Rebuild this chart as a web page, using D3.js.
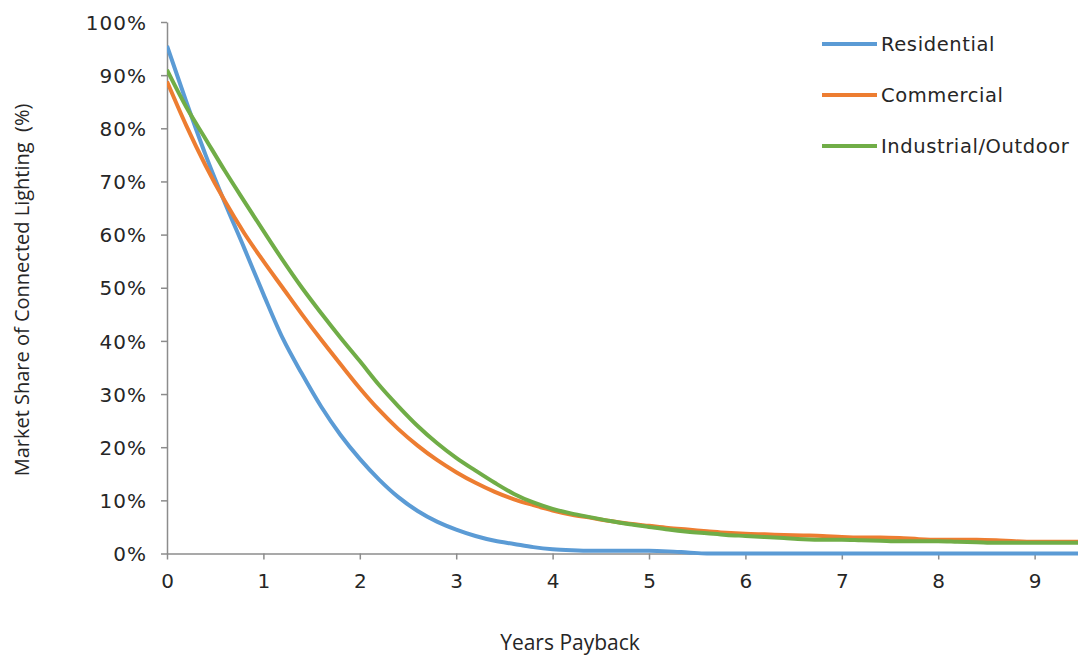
<!DOCTYPE html>
<html>
<head>
<meta charset="utf-8">
<script src="https://cdn.jsdelivr.net/npm/d3@7"></script>
<style>
  html, body { margin: 0; padding: 0; background: #ffffff; }
  svg { display: block; }
</style>
</head>
<body>
<svg id="chart" width="1078" height="655"></svg>
<script>
// ---- Data ----
const years = [0,0.2,0.4,0.6,0.8,1.0,1.2,1.4,1.6,1.8,2.0,2.2,2.4,2.6,2.8,3.0,3.2,3.4,3.6,3.8,4.0,4.2,4.4,4.6,4.8,5.0,5.2,5.4,5.6,5.8,6.0,6.2,6.4,6.6,6.8,7.0,7.2,7.4,7.6,7.8,8.0,8.2,8.4,8.6,8.8,9.0,9.2,9.4,9.6];
const residential = [95.5,85,75,66,57.5,48.8,40.5,33.8,27.6,22.3,17.8,13.9,10.6,8,6,4.5,3.3,2.4,1.8,1.2,0.8,0.6,0.5,0.5,0.5,0.5,0.4,0.2,0,0,0,0,0,0,0,0,0,0,0,0,0,0,0,0,0,0,0,0,0];
const commercial = [88.8,80.5,73,66.3,60.3,55,50,45,40.2,35.6,31.1,27,23.4,20.3,17.6,15.3,13.3,11.6,10.2,9.1,8.1,7.3,6.7,6.1,5.6,5.2,4.8,4.5,4.2,3.9,3.7,3.6,3.5,3.4,3.3,3.1,3.0,3.0,2.9,2.7,2.6,2.6,2.6,2.5,2.3,2.2,2.2,2.2,2.2];
const industrial = [91,84,78,72,66.3,60.7,55.2,50,45.2,40.6,36.2,31.7,27.7,24,20.8,18,15.6,13.3,11.2,9.6,8.4,7.5,6.8,6.1,5.5,5.0,4.5,4.1,3.8,3.5,3.3,3.1,2.9,2.7,2.6,2.6,2.5,2.4,2.3,2.3,2.3,2.2,2.1,2.0,2.0,2.0,2.0,2.0,2.0];
const seriesNames = ["Residential", "Commercial", "Industrial/Outdoor"];
const seriesValues = [residential, commercial, industrial];
const seriesColors = ["#5B9BD5", "#ED7D31", "#70AD47"];
const xTicks = [0,1,2,3,4,5,6,7,8,9];
const yTicks = [0,10,20,30,40,50,60,70,80,90,100];
const xTitle = "Years Payback";
const yTitle = "Market Share of Connected Lighting  (%)";

// ---- Layout ----
const W = 1078, H = 655;
const x0 = 167, x1 = 1078, y0 = 553.5, y1 = 22;
const svg = d3.select("#chart");

const x = d3.scaleLinear().domain([0, 9.45]).range([x0, x1]);
const y = d3.scaleLinear().domain([0, 100]).range([y0, y1]);

const axisColor = "#8c8c8c";
const tickFont = "'DejaVu Sans', Verdana, sans-serif";
const titleFont = "'Open Sans', 'Noto Sans', sans-serif";

// Y axis
const yAxis = svg.append("g")
  .attr("transform", `translate(${x0},0)`)
  .call(d3.axisLeft(y).tickValues(yTicks).tickSize(6).tickSizeOuter(0).tickPadding(14)
        .tickFormat(d => d + "%"));
yAxis.select(".domain").attr("stroke", axisColor).attr("stroke-width", 1.5);
yAxis.selectAll(".tick line").attr("stroke", axisColor).attr("stroke-width", 1.5);
yAxis.selectAll(".tick text")
  .attr("fill", "#262626").style("font-family", tickFont).style("font-size", "20px")
  .style("letter-spacing", "1px").attr("dy", "0.36em");

// X axis
const xAxis = svg.append("g")
  .attr("transform", `translate(0,${y0})`)
  .call(d3.axisBottom(x).tickValues(xTicks).tickSize(6).tickSizeOuter(0).tickPadding(14)
        .tickFormat(d3.format("d")));
xAxis.select(".domain").attr("stroke", axisColor).attr("stroke-width", 1.5);
xAxis.selectAll(".tick line").attr("stroke", axisColor).attr("stroke-width", 1.5);
xAxis.selectAll(".tick text")
  .attr("fill", "#262626").style("font-family", tickFont).style("font-size", "20px");

// Lines (clipped to plot area)
svg.append("clipPath").attr("id", "plotclip")
  .append("rect").attr("x", x0).attr("y", 0).attr("width", x1 - x0).attr("height", y0 + 5);

const line = d3.line()
  .x((d, i) => x(years[i]))
  .y(d => y(d))
  .curve(d3.curveMonotoneX);

const lines = svg.append("g").attr("clip-path", "url(#plotclip)");
seriesValues.forEach((vals, k) => {
  lines.append("path")
    .datum(vals)
    .attr("fill", "none")
    .attr("stroke", seriesColors[k])
    .attr("stroke-width", 4)
    .attr("stroke-linejoin", "round")
    .attr("d", line);
});

// Legend
const legend = svg.append("g");
const legendY = [44, 95, 146];
seriesNames.forEach((name, k) => {
  legend.append("line")
    .attr("x1", 822).attr("x2", 877)
    .attr("y1", legendY[k]).attr("y2", legendY[k])
    .attr("stroke", seriesColors[k]).attr("stroke-width", 4);
  legend.append("text")
    .attr("x", 881).attr("y", legendY[k]).attr("dy", "0.36em")
    .attr("fill", "#262626")
    .style("font-family", tickFont).style("font-size", "19.5px")
    .style("letter-spacing", "0.6px")
    .text(name);
});

// Axis titles
svg.append("text")
  .attr("x", 570).attr("y", 650)
  .attr("text-anchor", "middle")
  .attr("fill", "#262626")
  .style("font-family", titleFont).style("font-size", "21px")
  .text(xTitle);

svg.append("text")
  .attr("transform", "translate(29,290) rotate(-90)")
  .attr("text-anchor", "middle")
  .attr("fill", "#262626")
  .style("font-family", titleFont).style("font-size", "20px")
  .style("white-space", "pre")
  .text(yTitle);
</script>
</body>
</html>
